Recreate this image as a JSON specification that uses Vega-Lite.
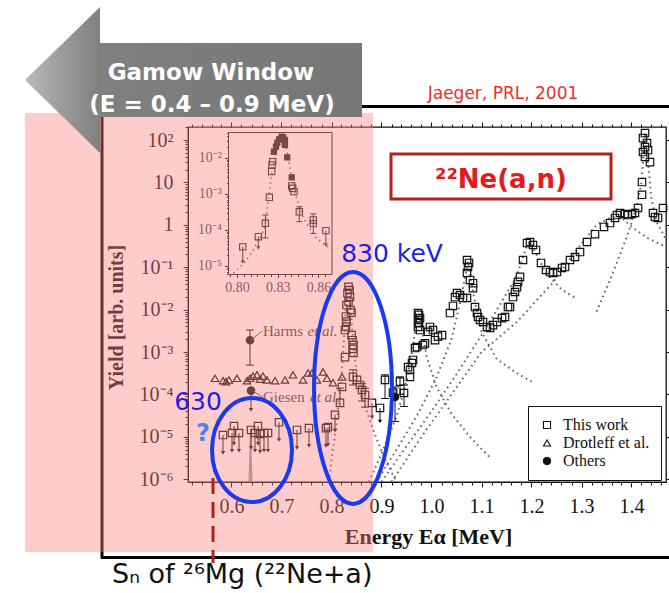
{
"$schema":"https://vega.github.io/schema/vega-lite/v6.json",
"width":478,"height":355,
"autosize":{"type":"none"},
"padding":{"left":188,"top":127,"right":3,"bottom":111},
"background":"white",
"config":{
 "view":{"stroke":"#111","strokeWidth":1.3},
 "axis":{"grid":false,"domainColor":"#111","tickColor":"#111","labelFont":"Liberation Serif","titleFont":"Liberation Serif","labelOverlap":false,"labelFlush":false}
},
"datasets":{
 "pts":[
  {"E":0.583,"Y":1.1e-5,"s":"This work"},{"E":0.601,"Y":1.23e-5,"s":"This work"},{"E":0.605,"Y":1.8e-5,"s":"This work"},{"E":0.615,"Y":1.23e-5,"s":"This work"},{"E":0.639,"Y":1.45e-5,"s":"This work"},{"E":0.647,"Y":1.23e-5,"s":"This work"},{"E":0.653,"Y":1.8e-5,"s":"This work"},{"E":0.657,"Y":1.17e-5,"s":"This work"},{"E":0.665,"Y":1.23e-5,"s":"This work"},{"E":0.673,"Y":1.23e-5,"s":"This work"},{"E":0.695,"Y":2.2e-5,"s":"This work"},{"E":0.731,"Y":1.45e-5,"s":"This work"},{"E":0.755,"Y":1.6e-5,"s":"This work"},{"E":0.789,"Y":1.6e-5,"s":"This work"},{"E":0.793,"Y":1.7e-5,"s":"This work"},{"E":0.807,"Y":3.3e-5,"s":"This work"},{"E":0.817,"Y":6.3e-5,"s":"This work"},{"E":0.821,"Y":1.5e-4,"s":"This work"},{"E":0.827,"Y":7.6e-4,"s":"This work"},{"E":0.843,"Y":2.6e-4,"s":"This work"},{"E":0.851,"Y":2.2e-4,"s":"This work"},{"E":0.857,"Y":1.67e-4,"s":"This work"},{"E":0.861,"Y":1.27e-4,"s":"This work"},{"E":0.867,"Y":9.7e-5,"s":"This work"},{"E":0.881,"Y":6.3e-5,"s":"This work"},{"E":0.897,"Y":4.8e-5,"s":"This work"},
  {"E":0.834,"Y":0.0345,"s":"This work"},{"E":0.836,"Y":0.029,"s":"This work"},{"E":0.832,"Y":0.0245,"s":"This work"},{"E":0.837,"Y":0.02,"s":"This work"},{"E":0.834,"Y":0.0155,"s":"This work"},{"E":0.83,"Y":0.0128,"s":"This work"},{"E":0.838,"Y":0.0098,"s":"This work"},{"E":0.84,"Y":0.0085,"s":"This work"},{"E":0.829,"Y":0.0069,"s":"This work"},{"E":0.83,"Y":0.0052,"s":"This work"},{"E":0.829,"Y":0.004,"s":"This work"},{"E":0.827,"Y":0.0033,"s":"This work"},{"E":0.84,"Y":0.0025,"s":"This work"},{"E":0.842,"Y":0.0019,"s":"This work"},{"E":0.844,"Y":0.00146,"s":"This work"},{"E":0.842,"Y":0.00118,"s":"This work"},{"E":0.844,"Y":0.00095,"s":"This work"},
  {"E":0.907,"Y":2.2e-4,"s":"This work"},{"E":0.937,"Y":2.0e-4,"s":"This work"},{"E":0.945,"Y":1.08e-4,"s":"This work"},{"E":0.923,"Y":1.1e-4,"s":"This work"},{"E":0.957,"Y":2.6e-4,"s":"This work"},{"E":0.953,"Y":4.4e-4,"s":"This work"},{"E":0.957,"Y":3.8e-4,"s":"This work"},{"E":0.961,"Y":5.5e-4,"s":"This work"},{"E":0.963,"Y":6.5e-4,"s":"This work"},{"E":0.967,"Y":0.00124,"s":"This work"},{"E":0.971,"Y":0.00131,"s":"This work"},{"E":0.983,"Y":0.00146,"s":"This work"},{"E":0.987,"Y":0.0016,"s":"This work"},
  {"E":0.973,"Y":0.0083,"s":"This work"},{"E":0.975,"Y":0.0075,"s":"This work"},{"E":0.977,"Y":0.0063,"s":"This work"},{"E":0.973,"Y":0.0057,"s":"This work"},{"E":0.975,"Y":0.0048,"s":"This work"},{"E":0.973,"Y":0.0039,"s":"This work"},{"E":0.977,"Y":0.0033,"s":"This work"},{"E":0.997,"Y":0.0039,"s":"This work"},{"E":0.993,"Y":0.003,"s":"This work"},{"E":1.003,"Y":0.0033,"s":"This work"},{"E":1.007,"Y":0.0019,"s":"This work"},{"E":1.013,"Y":0.0023,"s":"This work"},{"E":1.021,"Y":0.0025,"s":"This work"},
  {"E":1.037,"Y":0.0083,"s":"This work"},{"E":1.043,"Y":0.0122,"s":"This work"},{"E":1.047,"Y":0.0198,"s":"This work"},{"E":1.051,"Y":0.0246,"s":"This work"},{"E":1.057,"Y":0.0221,"s":"This work"},{"E":1.063,"Y":0.0188,"s":"This work"},{"E":1.071,"Y":0.0188,"s":"This work"},{"E":1.071,"Y":0.148,"s":"This work"},{"E":1.075,"Y":0.126,"s":"This work"},{"E":1.073,"Y":0.101,"s":"This work"},{"E":1.071,"Y":0.073,"s":"This work"},{"E":1.077,"Y":0.05,"s":"This work"},{"E":1.083,"Y":0.042,"s":"This work"},{"E":1.083,"Y":0.032,"s":"This work"},{"E":1.087,"Y":0.0115,"s":"This work"},{"E":1.091,"Y":0.0083,"s":"This work"},{"E":1.093,"Y":0.0067,"s":"This work"},{"E":1.097,"Y":0.0057,"s":"This work"},{"E":1.103,"Y":0.0051,"s":"This work"},{"E":1.111,"Y":0.0039,"s":"This work"},{"E":1.117,"Y":0.0037,"s":"This work"},{"E":1.123,"Y":0.0043,"s":"This work"},{"E":1.131,"Y":0.0051,"s":"This work"},{"E":1.141,"Y":0.0063,"s":"This work"},{"E":1.147,"Y":0.0067,"s":"This work"},{"E":1.153,"Y":0.0115,"s":"This work"},{"E":1.157,"Y":0.0115,"s":"This work"},{"E":1.163,"Y":0.0198,"s":"This work"},{"E":1.167,"Y":0.026,"s":"This work"},{"E":1.171,"Y":0.034,"s":"This work"},{"E":1.173,"Y":0.045,"s":"This work"},{"E":1.177,"Y":0.059,"s":"This work"},{"E":1.183,"Y":0.148,"s":"This work"},{"E":1.191,"Y":0.372,"s":"This work"},{"E":1.197,"Y":0.393,"s":"This work"},{"E":1.203,"Y":0.334,"s":"This work"},{"E":1.209,"Y":0.255,"s":"This work"},{"E":1.219,"Y":0.126,"s":"This work"},{"E":1.229,"Y":0.086,"s":"This work"},{"E":1.237,"Y":0.077,"s":"This work"},{"E":1.243,"Y":0.073,"s":"This work"},{"E":1.251,"Y":0.077,"s":"This work"},{"E":1.261,"Y":0.096,"s":"This work"},{"E":1.267,"Y":0.101,"s":"This work"},{"E":1.277,"Y":0.148,"s":"This work"},{"E":1.287,"Y":0.174,"s":"This work"},{"E":1.297,"Y":0.228,"s":"This work"},{"E":1.311,"Y":0.393,"s":"This work"},{"E":1.327,"Y":0.6,"s":"This work"},{"E":1.345,"Y":0.89,"s":"This work"},{"E":1.357,"Y":1.1,"s":"This work"},{"E":1.367,"Y":1.45,"s":"This work"},{"E":1.371,"Y":1.7,"s":"This work"},{"E":1.377,"Y":1.9,"s":"This work"},{"E":1.387,"Y":1.8,"s":"This work"},{"E":1.393,"Y":1.7,"s":"This work"},{"E":1.401,"Y":1.8,"s":"This work"},{"E":1.407,"Y":1.9,"s":"This work"},{"E":1.413,"Y":2.49,"s":"This work"},{"E":1.421,"Y":5.1,"s":"This work"},{"E":1.421,"Y":10.2,"s":"This work"},{"E":1.423,"Y":52,"s":"This work"},{"E":1.427,"Y":146,"s":"This work"},{"E":1.423,"Y":111,"s":"This work"},{"E":1.431,"Y":85,"s":"This work"},{"E":1.427,"Y":68,"s":"This work"},{"E":1.433,"Y":58,"s":"This work"},{"E":1.427,"Y":40,"s":"This work"},{"E":1.437,"Y":30,"s":"This work"},{"E":1.443,"Y":1.9,"s":"This work"},{"E":1.447,"Y":1.53,"s":"This work"},{"E":1.453,"Y":1.45,"s":"This work"},{"E":1.463,"Y":2.49,"s":"This work"},
  {"E":0.567,"Y":2.4e-4,"s":"Drotleff et al."},{"E":0.583,"Y":2.1e-4,"s":"Drotleff et al."},{"E":0.589,"Y":2.0e-4,"s":"Drotleff et al."},{"E":0.595,"Y":2.2e-4,"s":"Drotleff et al."},{"E":0.611,"Y":2.4e-4,"s":"Drotleff et al."},{"E":0.631,"Y":2.1e-4,"s":"Drotleff et al."},{"E":0.637,"Y":2.4e-4,"s":"Drotleff et al."},{"E":0.643,"Y":2.7e-4,"s":"Drotleff et al."},{"E":0.651,"Y":2.9e-4,"s":"Drotleff et al."},{"E":0.657,"Y":2.3e-4,"s":"Drotleff et al."},{"E":0.663,"Y":2.7e-4,"s":"Drotleff et al."},{"E":0.671,"Y":2.2e-4,"s":"Drotleff et al."},{"E":0.687,"Y":2.1e-4,"s":"Drotleff et al."},{"E":0.707,"Y":2.2e-4,"s":"Drotleff et al."},{"E":0.723,"Y":2.9e-4,"s":"Drotleff et al."},{"E":0.743,"Y":2.2e-4,"s":"Drotleff et al."},{"E":0.753,"Y":3.2e-4,"s":"Drotleff et al."},{"E":0.761,"Y":3.2e-4,"s":"Drotleff et al."},{"E":0.771,"Y":2.2e-4,"s":"Drotleff et al."},{"E":0.783,"Y":3.4e-4,"s":"Drotleff et al."},{"E":0.791,"Y":2.4e-4,"s":"Drotleff et al."},{"E":0.803,"Y":1.9e-4,"s":"Drotleff et al."},{"E":0.821,"Y":2.6e-4,"s":"Drotleff et al."},
  {"E":0.637,"Y":0.0019,"s":"Others"},{"E":0.639,"Y":1.23e-4,"s":"Others"},{"E":0.927,"Y":8.7e-5,"s":"Others"}
 ],
 "errs":[
  {"E":0.637,"lo":4.9e-4,"hi":0.0033},{"E":0.927,"lo":2.3e-5,"hi":1.5e-4},{"E":0.817,"lo":5.2e-5,"hi":1.4e-4},{"E":0.843,"lo":1.67e-4,"hi":3.8e-4},{"E":0.861,"lo":7e-5,"hi":1.8e-4},{"E":0.867,"lo":5e-5,"hi":1.4e-4},{"E":0.907,"lo":8e-5,"hi":2.9e-4},{"E":0.937,"lo":1.0e-4,"hi":2.6e-4},{"E":0.945,"lo":5.2e-5,"hi":1.67e-4}
 ],
 "lims":[
  {"E":0.583,"Y":1.1e-5,"lo":4.2e-6},{"E":0.601,"Y":1.23e-5,"lo":4.7e-6},{"E":0.605,"Y":1.8e-5,"lo":6.8e-6},{"E":0.615,"Y":1.23e-5,"lo":4.7e-6},{"E":0.639,"Y":1.45e-5,"lo":5.5e-6},{"E":0.647,"Y":1.23e-5,"lo":4.7e-6},{"E":0.653,"Y":1.8e-5,"lo":6.8e-6},{"E":0.657,"Y":1.17e-5,"lo":4.4e-6},{"E":0.665,"Y":1.23e-5,"lo":4.7e-6},{"E":0.673,"Y":1.23e-5,"lo":4.7e-6},{"E":0.695,"Y":2.2e-5,"lo":8.4e-6},{"E":0.731,"Y":1.45e-5,"lo":5.5e-6},{"E":0.755,"Y":1.6e-5,"lo":6.1e-6},{"E":0.789,"Y":1.6e-5,"lo":6.1e-6},{"E":0.793,"Y":1.7e-5,"lo":6.5e-6},{"E":0.807,"Y":3.3e-5,"lo":1.4e-5},{"E":0.881,"Y":6.3e-5,"lo":2.9e-5},{"E":0.897,"Y":4.8e-5,"lo":2.3e-5},{"E":0.639,"Y":1.23e-4,"lo":4.3e-5}
 ],
 "curves":[
  {"c":"C1","E":0.795,"Y":8.7e-7},{"c":"C1","E":0.8,"Y":3e-6},{"c":"C1","E":0.81,"Y":2e-5},{"c":"C1","E":0.82,"Y":2.5e-4},{"c":"C1","E":0.826,"Y":0.003},{"c":"C1","E":0.831,"Y":0.03},{"c":"C1","E":0.835,"Y":0.035},{"c":"C1","E":0.84,"Y":0.006},{"c":"C1","E":0.845,"Y":0.001},{"c":"C1","E":0.85,"Y":3.5e-4},{"c":"C1","E":0.86,"Y":1e-4},{"c":"C1","E":0.875,"Y":2.8e-5},{"c":"C1","E":0.89,"Y":9e-6},{"c":"C1","E":0.91,"Y":2.5e-6},{"c":"C1","E":0.93,"Y":8.7e-7},
  {"c":"C2","E":0.875,"Y":8.7e-7},{"c":"C2","E":0.9,"Y":4e-6},{"c":"C2","E":0.93,"Y":3e-5},{"c":"C2","E":0.95,"Y":2e-4},{"c":"C2","E":0.962,"Y":0.0012},{"c":"C2","E":0.97,"Y":0.005},{"c":"C2","E":0.975,"Y":0.008},{"c":"C2","E":0.98,"Y":0.004},{"c":"C2","E":0.99,"Y":8e-4},{"c":"C2","E":1.01,"Y":1.5e-4},{"c":"C2","E":1.04,"Y":3.5e-5},{"c":"C2","E":1.08,"Y":9e-6},{"c":"C2","E":1.12,"Y":3e-6},
  {"c":"C3","E":0.89,"Y":8.7e-7},{"c":"C3","E":0.93,"Y":5e-6},{"c":"C3","E":0.97,"Y":3e-5},{"c":"C3","E":1.01,"Y":2.5e-4},{"c":"C3","E":1.04,"Y":0.002},{"c":"C3","E":1.06,"Y":0.02},{"c":"C3","E":1.073,"Y":0.14},{"c":"C3","E":1.085,"Y":0.02},{"c":"C3","E":1.1,"Y":0.003},{"c":"C3","E":1.13,"Y":7e-4},{"c":"C3","E":1.165,"Y":3.5e-4},{"c":"C3","E":1.2,"Y":2e-4},
  {"c":"C4","E":0.9,"Y":8.7e-7},{"c":"C4","E":0.95,"Y":6e-6},{"c":"C4","E":1.0,"Y":4e-5},{"c":"C4","E":1.05,"Y":3e-4},{"c":"C4","E":1.1,"Y":0.0025},{"c":"C4","E":1.14,"Y":0.015},{"c":"C4","E":1.17,"Y":0.06},{"c":"C4","E":1.19,"Y":0.3},{"c":"C4","E":1.197,"Y":0.39},{"c":"C4","E":1.21,"Y":0.2},{"c":"C4","E":1.23,"Y":0.07},{"c":"C4","E":1.26,"Y":0.03},{"c":"C4","E":1.29,"Y":0.018},
  {"c":"C5","E":0.92,"Y":8.7e-7},{"c":"C5","E":0.98,"Y":1e-5},{"c":"C5","E":1.04,"Y":1e-4},{"c":"C5","E":1.1,"Y":0.001},{"c":"C5","E":1.17,"Y":0.005},{"c":"C5","E":1.24,"Y":0.04},{"c":"C5","E":1.29,"Y":0.25},{"c":"C5","E":1.33,"Y":1.0},{"c":"C5","E":1.36,"Y":1.5},{"c":"C5","E":1.38,"Y":1.5},{"c":"C5","E":1.4,"Y":0.9},{"c":"C5","E":1.43,"Y":0.5},{"c":"C5","E":1.469,"Y":0.3},
  {"c":"C6","E":1.33,"Y":0.009},{"c":"C6","E":1.36,"Y":0.06},{"c":"C6","E":1.39,"Y":0.5},{"c":"C6","E":1.41,"Y":2.5},{"c":"C6","E":1.42,"Y":10},{"c":"C6","E":1.427,"Y":140},{"c":"C6","E":1.433,"Y":30},{"c":"C6","E":1.44,"Y":4},{"c":"C6","E":1.45,"Y":1.2},{"c":"C6","E":1.469,"Y":0.45}
 ],
 "spike":[{"E":0.634,"Y":9e-7},{"E":0.637,"Y":1.6e-5},{"E":0.639,"Y":1.6e-5},{"E":0.642,"Y":9e-7}],
 "inframe":[{"x1":0.7937,"x2":0.87,"y1":5.8e-6,"y2":0.051}],
 "inopen":[{"E":0.8042,"Y":3.4e-5},{"E":0.8157,"Y":6.5e-5},{"E":0.8209,"Y":1.53e-4},{"E":0.8238,"Y":8.1e-4},{"E":0.8255,"Y":0.0042},{"E":0.8258,"Y":0.0064},{"E":0.8263,"Y":0.0079},{"E":0.8403,"Y":0.00167},{"E":0.841,"Y":0.00144},{"E":0.842,"Y":0.00116},{"E":0.8459,"Y":3.2e-4},{"E":0.8562,"Y":1.9e-4},{"E":0.8562,"Y":1.5e-4},{"E":0.8655,"Y":9.6e-5}],
 "infill":[{"E":0.8272,"Y":0.0149},{"E":0.8287,"Y":0.0206},{"E":0.8297,"Y":0.0266},{"E":0.8311,"Y":0.033},{"E":0.8329,"Y":0.039},{"E":0.8341,"Y":0.037},{"E":0.8353,"Y":0.0316},{"E":0.8353,"Y":0.023},{"E":0.837,"Y":0.0104},{"E":0.8403,"Y":0.0029}],
 "inerrs":[{"E":0.8209,"lo":6e-5,"hi":2.6e-4},{"E":0.8459,"lo":1.7e-4,"hi":4.4e-4},{"E":0.8562,"lo":8e-5,"hi":2.8e-4}],
 "inlims":[{"E":0.8042,"Y":3.4e-5,"lo":1.3e-5},{"E":0.8157,"Y":6.5e-5,"lo":3.2e-5},{"E":0.8655,"Y":9.6e-5,"lo":3.8e-5}],
 "incurve":[{"E":0.7973,"Y":6.3e-6},{"E":0.8059,"Y":1.29e-5},{"E":0.812,"Y":2.8e-5},{"E":0.8177,"Y":6.8e-5},{"E":0.8206,"Y":1.24e-4},{"E":0.823,"Y":6.8e-4},{"E":0.8256,"Y":0.0038},{"E":0.8287,"Y":0.0166},{"E":0.833,"Y":0.038},{"E":0.836,"Y":0.023},{"E":0.8376,"Y":0.01},{"E":0.8427,"Y":0.00107},{"E":0.8486,"Y":2.3e-4},{"E":0.8574,"Y":6.4e-5},{"E":0.867,"Y":3.4e-5},{"E":0.87,"Y":2.8e-5}],
 "frame":[{"E":0.341,"E2":0.341,"Y":600,"Y2":1.39e-8},{"E":0.337,"E2":1.475,"Y":617,"Y2":617},{"E":0.339,"E2":1.475,"Y":1.42e-8,"Y2":1.42e-8}],
 "leaders":[{"E":0.638,"E2":0.661,"Y":0.0019,"Y2":0.0031},{"E":0.642,"E2":0.662,"Y":1.23e-4,"Y2":8.7e-5}],
 "one":[{"E":1,"Y":1}],
 "inone":[{"E":0.83,"Y":0.001}]
},
"layer":[
 {"data":{"name":"one"},"mark":{"type":"point","opacity":0},
  "encoding":{
   "x":{"field":"E","type":"quantitative","scale":{"domain":[0.513,1.469],"nice":false,"zero":false},
    "axis":{"orient":"bottom","title":"Energy Eα [MeV]","titleFontSize":22,"titleFontWeight":"bold","titleColor":"#111","titleX":240,"titleY":61,"titleBaseline":"alphabetic","titleAlign":"center",
     "values":[0.6,0.7,0.8,0.9,1.0,1.1,1.2,1.3,1.4],"format":".1f","tickSize":5,"labelFontSize":20,"labelColor":"#111","labelPadding":9}},
   "y":{"field":"Y","type":"quantitative","scale":{"type":"log","domain":[8.6e-7,202.6],"nice":false},
    "axis":{"orient":"left","title":"Yield [arb. units]","titleFontSize":20,"titleFontWeight":"bold","titleColor":"#111","titleX":-66,"titleY":190,"titleBaseline":"alphabetic","titleAlign":"center","titleAngle":-90,
     "values":[1e-6,1e-5,1e-4,0.001,0.01,0.1,1,10,100],
     "labelExpr":"datum.value==100?'10²':datum.value==10?'10':datum.value==1?'1':datum.value==0.1?'10⁻¹':datum.value==0.01?'10⁻²':datum.value==0.001?'10⁻³':datum.value==0.0001?'10⁻⁴':datum.value==0.00001?'10⁻⁵':'10⁻⁶'",
     "tickSize":5,"labelFontSize":20,"labelColor":"#111","labelPadding":10}}}},
 {"data":{"name":"one"},"mark":{"type":"point","opacity":0},
  "encoding":{
   "x":{"field":"E","type":"quantitative","scale":{"domain":[0.513,1.469],"nice":false,"zero":false},
    "axis":{"orient":"bottom","title":null,"labels":false,"domain":false,"tickSize":3,
     "values":[0.52,0.54,0.56,0.58,0.62,0.64,0.66,0.68,0.72,0.74,0.76,0.78,0.82,0.84,0.86,0.88,0.92,0.94,0.96,0.98,1.02,1.04,1.06,1.08,1.12,1.14,1.16,1.18,1.22,1.24,1.26,1.28,1.32,1.34,1.36,1.38,1.42,1.44,1.46]}},
   "y":{"field":"Y","type":"quantitative","scale":{"type":"log","domain":[8.6e-7,202.6],"nice":false},
    "axis":{"orient":"left","title":null,"labels":false,"domain":false,"tickSize":3,
     "values":[2e-6,3e-6,4e-6,5e-6,6e-6,7e-6,8e-6,9e-6,2e-5,3e-5,4e-5,5e-5,6e-5,7e-5,8e-5,9e-5,2e-4,3e-4,4e-4,5e-4,6e-4,7e-4,8e-4,9e-4,0.002,0.003,0.004,0.005,0.006,0.007,0.008,0.009,0.02,0.03,0.04,0.05,0.06,0.07,0.08,0.09,0.2,0.3,0.4,0.5,0.6,0.7,0.8,0.9,2,3,4,5,6,7,8,9,20,30,40,50,60,70,80,90,200]}}}},
 {"data":{"name":"one"},"mark":{"type":"point","opacity":0},
  "encoding":{
   "x":{"field":"E","type":"quantitative","scale":{"domain":[0.513,1.469],"nice":false,"zero":false},
    "axis":{"orient":"top","title":null,"labels":false,"domain":false,"tickSize":5,"values":[0.6,0.7,0.8,0.9,1.0,1.1,1.2,1.3,1.4]}},
   "y":{"field":"Y","type":"quantitative","scale":{"type":"log","domain":[8.6e-7,202.6],"nice":false},
    "axis":{"orient":"right","title":null,"labels":false,"domain":false,"tickSize":5,"values":[1e-6,1e-5,1e-4,0.001,0.01,0.1,1,10,100]}}}},
 {"data":{"name":"one"},"mark":{"type":"point","opacity":0},
  "encoding":{
   "x":{"field":"E","type":"quantitative","scale":{"domain":[0.513,1.469],"nice":false,"zero":false},
    "axis":{"orient":"top","title":null,"labels":false,"domain":false,"tickSize":3,
     "values":[0.52,0.54,0.56,0.58,0.62,0.64,0.66,0.68,0.72,0.74,0.76,0.78,0.82,0.84,0.86,0.88,0.92,0.94,0.96,0.98,1.02,1.04,1.06,1.08,1.12,1.14,1.16,1.18,1.22,1.24,1.26,1.28,1.32,1.34,1.36,1.38,1.42,1.44,1.46]}},
   "y":{"field":"Y","type":"quantitative","scale":{"type":"log","domain":[8.6e-7,202.6],"nice":false},"axis":null}}},
 {"data":{"name":"inone"},"mark":{"type":"point","opacity":0},
  "encoding":{
   "x":{"field":"E","type":"quantitative","scale":{"domain":[0.7937,0.87],"range":[40.5,144],"nice":false,"zero":false},
    "axis":{"orient":"bottom","offset":-207.5,"domain":false,"title":null,"values":[0.8,0.83,0.86],"format":".2f","tickSize":3,"labelFontSize":14,"labelColor":"#444","labelPadding":3}},
   "y":{"field":"Y","type":"quantitative","scale":{"type":"log","domain":[5.8e-6,0.051],"range":[147.5,5.5],"nice":false},
    "axis":{"orient":"left","offset":-40.5,"domain":false,"title":null,"values":[1e-5,1e-4,0.001,0.01],
     "labelExpr":"datum.value==0.01?'10⁻²':datum.value==0.001?'10⁻³':datum.value==0.0001?'10⁻⁴':'10⁻⁵'","tickSize":4,"labelFontSize":14,"labelColor":"#444","labelPadding":3}}}},
 {"data":{"name":"inone"},"mark":{"type":"point","opacity":0},
  "encoding":{
   "x":{"field":"E","type":"quantitative","scale":{"domain":[0.7937,0.87],"range":[40.5,144],"nice":false,"zero":false},
    "axis":{"orient":"bottom","offset":-207.5,"domain":false,"title":null,"labels":false,"tickSize":2,"values":[0.795,0.805,0.81,0.815,0.82,0.825,0.835,0.84,0.845,0.85,0.855,0.865]}},
   "y":{"field":"Y","type":"quantitative","scale":{"type":"log","domain":[5.8e-6,0.051],"range":[147.5,5.5],"nice":false},
    "axis":{"orient":"left","offset":-40.5,"domain":false,"title":null,"labels":false,"tickSize":2,
     "values":[6e-6,7e-6,8e-6,9e-6,2e-5,3e-5,4e-5,5e-5,6e-5,7e-5,8e-5,9e-5,2e-4,3e-4,4e-4,5e-4,6e-4,7e-4,8e-4,9e-4,0.002,0.003,0.004,0.005,0.006,0.007,0.008,0.009,0.02,0.03,0.04,0.05]}}}},

 {"data":{"name":"inframe"},"mark":{"type":"rect","fill":"white","stroke":"#222","strokeWidth":1},
  "encoding":{
   "x":{"field":"x1","type":"quantitative","scale":{"domain":[0.7937,0.87],"range":[40.5,144],"nice":false,"zero":false},"axis":null},
   "x2":{"field":"x2"},
   "y":{"field":"y1","type":"quantitative","scale":{"type":"log","domain":[5.8e-6,0.051],"range":[147.5,5.5],"nice":false},"axis":null},
   "y2":{"field":"y2"}}},
 {"data":{"name":"incurve"},"mark":{"type":"line","stroke":"#666","strokeWidth":1.6,"strokeDash":[1.5,3.5]},
  "encoding":{"x":{"field":"E","type":"quantitative","scale":{"domain":[0.7937,0.87],"range":[40.5,144],"nice":false,"zero":false},"axis":null},
   "y":{"field":"Y","type":"quantitative","scale":{"type":"log","domain":[5.8e-6,0.051],"range":[147.5,5.5],"nice":false},"axis":null}}},
 {"data":{"name":"inerrs"},"mark":{"type":"rule","stroke":"#222","strokeWidth":1},
  "encoding":{"x":{"field":"E","type":"quantitative","scale":{"domain":[0.7937,0.87],"range":[40.5,144],"nice":false,"zero":false},"axis":null},
   "y":{"field":"lo","type":"quantitative","scale":{"type":"log","domain":[5.8e-6,0.051],"range":[147.5,5.5],"nice":false},"axis":null},"y2":{"field":"hi"}}},
 {"data":{"name":"inerrs"},"mark":{"type":"tick","orient":"horizontal","size":6,"thickness":1,"color":"#222","opacity":1},
  "encoding":{"x":{"field":"E","type":"quantitative","scale":{"domain":[0.7937,0.87],"range":[40.5,144],"nice":false,"zero":false},"axis":null},
   "y":{"field":"lo","type":"quantitative","scale":{"type":"log","domain":[5.8e-6,0.051],"range":[147.5,5.5],"nice":false},"axis":null}}},
 {"data":{"name":"inerrs"},"mark":{"type":"tick","orient":"horizontal","size":6,"thickness":1,"color":"#222","opacity":1},
  "encoding":{"x":{"field":"E","type":"quantitative","scale":{"domain":[0.7937,0.87],"range":[40.5,144],"nice":false,"zero":false},"axis":null},
   "y":{"field":"hi","type":"quantitative","scale":{"type":"log","domain":[5.8e-6,0.051],"range":[147.5,5.5],"nice":false},"axis":null}}},
 {"data":{"name":"inlims"},"mark":{"type":"rule","stroke":"#222","strokeWidth":1},
  "encoding":{"x":{"field":"E","type":"quantitative","scale":{"domain":[0.7937,0.87],"range":[40.5,144],"nice":false,"zero":false},"axis":null},
   "y":{"field":"Y","type":"quantitative","scale":{"type":"log","domain":[5.8e-6,0.051],"range":[147.5,5.5],"nice":false},"axis":null},"y2":{"field":"lo"}}},
 {"data":{"name":"inlims"},"mark":{"type":"point","shape":"triangle-down","size":14,"filled":true,"color":"#222","opacity":1},
  "encoding":{"x":{"field":"E","type":"quantitative","scale":{"domain":[0.7937,0.87],"range":[40.5,144],"nice":false,"zero":false},"axis":null},
   "y":{"field":"lo","type":"quantitative","scale":{"type":"log","domain":[5.8e-6,0.051],"range":[147.5,5.5],"nice":false},"axis":null}}},
 {"data":{"name":"inopen"},"mark":{"type":"point","shape":"square","size":40,"filled":false,"stroke":"#222","strokeWidth":1.1,"opacity":1},
  "encoding":{"x":{"field":"E","type":"quantitative","scale":{"domain":[0.7937,0.87],"range":[40.5,144],"nice":false,"zero":false},"axis":null},
   "y":{"field":"Y","type":"quantitative","scale":{"type":"log","domain":[5.8e-6,0.051],"range":[147.5,5.5],"nice":false},"axis":null}}},
 {"data":{"name":"infill"},"mark":{"type":"point","shape":"square","size":40,"filled":true,"color":"#222","opacity":1},
  "encoding":{"x":{"field":"E","type":"quantitative","scale":{"domain":[0.7937,0.87],"range":[40.5,144],"nice":false,"zero":false},"axis":null},
   "y":{"field":"Y","type":"quantitative","scale":{"type":"log","domain":[5.8e-6,0.051],"range":[147.5,5.5],"nice":false},"axis":null}}},

 {"data":{"name":"curves"},"mark":{"type":"line","stroke":"#666","strokeWidth":2,"strokeDash":[1.6,3.6]},
  "encoding":{"x":{"field":"E","type":"quantitative","scale":{"domain":[0.513,1.469],"nice":false,"zero":false},"axis":null},
   "y":{"field":"Y","type":"quantitative","scale":{"type":"log","domain":[8.6e-7,202.6],"nice":false},"axis":null},"detail":{"field":"c"}}},
 {"data":{"name":"spike"},"mark":{"type":"area","color":"#8a8a8a","opacity":0.85},
  "encoding":{"x":{"field":"E","type":"quantitative","scale":{"domain":[0.513,1.469],"nice":false,"zero":false},"axis":null},
   "y":{"field":"Y","type":"quantitative","scale":{"type":"log","domain":[8.6e-7,202.6],"nice":false},"axis":null},"y2":{"datum":9e-7}}},
 {"data":{"name":"errs"},"mark":{"type":"rule","stroke":"#111","strokeWidth":1},
  "encoding":{"x":{"field":"E","type":"quantitative","scale":{"domain":[0.513,1.469],"nice":false,"zero":false},"axis":null},
   "y":{"field":"lo","type":"quantitative","scale":{"type":"log","domain":[8.6e-7,202.6],"nice":false},"axis":null},"y2":{"field":"hi"}}},
 {"data":{"name":"errs"},"mark":{"type":"tick","orient":"horizontal","size":8,"thickness":1,"color":"#111","opacity":1},
  "encoding":{"x":{"field":"E","type":"quantitative","scale":{"domain":[0.513,1.469],"nice":false,"zero":false},"axis":null},
   "y":{"field":"lo","type":"quantitative","scale":{"type":"log","domain":[8.6e-7,202.6],"nice":false},"axis":null}}},
 {"data":{"name":"errs"},"mark":{"type":"tick","orient":"horizontal","size":8,"thickness":1,"color":"#111","opacity":1},
  "encoding":{"x":{"field":"E","type":"quantitative","scale":{"domain":[0.513,1.469],"nice":false,"zero":false},"axis":null},
   "y":{"field":"hi","type":"quantitative","scale":{"type":"log","domain":[8.6e-7,202.6],"nice":false},"axis":null}}},
 {"data":{"name":"lims"},"mark":{"type":"rule","stroke":"#111","strokeWidth":1},
  "encoding":{"x":{"field":"E","type":"quantitative","scale":{"domain":[0.513,1.469],"nice":false,"zero":false},"axis":null},
   "y":{"field":"Y","type":"quantitative","scale":{"type":"log","domain":[8.6e-7,202.6],"nice":false},"axis":null},"y2":{"field":"lo"}}},
 {"data":{"name":"lims"},"mark":{"type":"point","shape":"triangle-down","size":18,"filled":true,"color":"#111","opacity":1},
  "encoding":{"x":{"field":"E","type":"quantitative","scale":{"domain":[0.513,1.469],"nice":false,"zero":false},"axis":null},
   "y":{"field":"lo","type":"quantitative","scale":{"type":"log","domain":[8.6e-7,202.6],"nice":false},"axis":null}}},
 {"data":{"name":"pts"},"mark":{"type":"point","strokeWidth":1.2,"size":55,"opacity":1},
  "encoding":{"x":{"field":"E","type":"quantitative","scale":{"domain":[0.513,1.469],"nice":false,"zero":false},"axis":null},
   "y":{"field":"Y","type":"quantitative","scale":{"type":"log","domain":[8.6e-7,202.6],"nice":false},"axis":null},
   "shape":{"field":"s","type":"nominal","scale":{"domain":["This work","Drotleff et al.","Others"],"range":["square","triangle-up","circle"]},
    "legend":{"orient":"none","legendX":340,"legendY":279,"title":null,"strokeColor":"#111","fillColor":"white","padding":11,"labelFont":"Liberation Serif","labelFontSize":16,"labelColor":"#111","symbolSize":50,"symbolStrokeWidth":1.1,"rowPadding":2,"labelOffset":8}},
   "fill":{"field":"s","type":"nominal","scale":{"domain":["This work","Drotleff et al.","Others"],"range":["transparent","transparent","#111"]},
    "legend":{"orient":"none","legendX":340,"legendY":279,"title":null,"strokeColor":"#111","fillColor":"white","padding":11,"labelFont":"Liberation Serif","labelFontSize":16,"labelColor":"#111","symbolSize":50,"symbolStrokeWidth":1.1,"rowPadding":2,"labelOffset":8}},
   "stroke":{"field":"s","type":"nominal","scale":{"domain":["This work","Drotleff et al.","Others"],"range":["#111","#111","#111"]},
    "legend":{"orient":"none","legendX":340,"legendY":279,"title":null,"strokeColor":"#111","fillColor":"white","padding":11,"labelFont":"Liberation Serif","labelFontSize":16,"labelColor":"#111","symbolSize":50,"symbolStrokeWidth":1.1,"rowPadding":2,"labelOffset":8}}}},
 {"data":{"name":"leaders"},"mark":{"type":"rule","stroke":"#555","strokeWidth":1},
  "encoding":{"x":{"field":"E","type":"quantitative","scale":{"domain":[0.513,1.469],"nice":false,"zero":false},"axis":null},"x2":{"field":"E2"},
   "y":{"field":"Y","type":"quantitative","scale":{"type":"log","domain":[8.6e-7,202.6],"nice":false},"axis":null},"y2":{"field":"Y2"}}},
 {"data":{"values":[{"E":0.663,"Y":0.0032,"t":"Harms"},{"E":0.663,"Y":8.7e-5,"t":"Giesen"}]},"mark":{"type":"text","font":"Liberation Serif","fontSize":15,"color":"#444","align":"left","baseline":"middle"},
  "encoding":{"x":{"field":"E","type":"quantitative","scale":{"domain":[0.513,1.469],"nice":false,"zero":false},"axis":null},
   "y":{"field":"Y","type":"quantitative","scale":{"type":"log","domain":[8.6e-7,202.6],"nice":false},"axis":null},"text":{"field":"t"}}},
 {"data":{"values":[{"E":0.752,"Y":0.0032,"t":"et al."},{"E":0.757,"Y":8.7e-5,"t":"et al."}]},"mark":{"type":"text","font":"Liberation Serif","fontSize":15,"fontStyle":"italic","color":"#444","align":"left","baseline":"middle"},
  "encoding":{"x":{"field":"E","type":"quantitative","scale":{"domain":[0.513,1.469],"nice":false,"zero":false},"axis":null},
   "y":{"field":"Y","type":"quantitative","scale":{"type":"log","domain":[8.6e-7,202.6],"nice":false},"axis":null},"text":{"field":"t"}}},
 {"data":{"name":"frame"},"mark":{"type":"rule","stroke":"#000","strokeWidth":3},
  "encoding":{"x":{"field":"E","type":"quantitative","scale":{"domain":[0.513,1.469],"nice":false,"zero":false},"axis":null},"x2":{"field":"E2"},
   "y":{"field":"Y","type":"quantitative","scale":{"type":"log","domain":[8.6e-7,202.6],"nice":false},"axis":null},"y2":{"field":"Y2"}}},
 {"data":{"values":[{"E":0.187,"E2":0.883,"Y":433.6,"Y2":1.92e-8}]},"mark":{"type":"rect","fill":"#ff8080","opacity":0.4},
  "encoding":{"x":{"field":"E","type":"quantitative","scale":{"domain":[0.513,1.469],"nice":false,"zero":false},"axis":null},"x2":{"field":"E2"},
   "y":{"field":"Y","type":"quantitative","scale":{"type":"log","domain":[8.6e-7,202.6],"nice":false},"axis":null},"y2":{"field":"Y2"}}},
 {"data":{"values":[{"E":0.919,"E2":1.359,"Y":46.8,"Y2":4.06}]},"mark":{"type":"rect","fill":"white","fillOpacity":0,"stroke":"#b3211c","strokeWidth":3},
  "encoding":{"x":{"field":"E","type":"quantitative","scale":{"domain":[0.513,1.469],"nice":false,"zero":false},"axis":null},"x2":{"field":"E2"},
   "y":{"field":"Y","type":"quantitative","scale":{"type":"log","domain":[8.6e-7,202.6],"nice":false},"axis":null},"y2":{"field":"Y2"}}},
 {"data":{"values":[{"E":1.139,"Y":7.38,"t":"²²Ne(a,n)"}]},"mark":{"type":"text","font":"DejaVu Sans","fontSize":26,"fontWeight":"bold","color":"#e41a1c","align":"center","baseline":"alphabetic"},
  "encoding":{"x":{"field":"E","type":"quantitative","scale":{"domain":[0.513,1.469],"nice":false,"zero":false},"axis":null},
   "y":{"field":"Y","type":"quantitative","scale":{"type":"log","domain":[8.6e-7,202.6],"nice":false},"axis":null},"text":{"field":"t"}}},
 {"data":{"values":[{"E":1.143,"Y":927,"t":"Jaeger, PRL, 2001"}]},"mark":{"type":"text","font":"DejaVu Sans","fontSize":17,"color":"#e8302e","align":"center","baseline":"alphabetic"},
  "encoding":{"x":{"field":"E","type":"quantitative","scale":{"domain":[0.513,1.469],"nice":false,"zero":false},"axis":null},
   "y":{"field":"Y","type":"quantitative","scale":{"type":"log","domain":[8.6e-7,202.6],"nice":false},"axis":null},"text":{"field":"t"}}},
 {"data":{"values":[{"E":0.563,"Y":1.07e-6,"Y2":1.06e-8}]},"mark":{"type":"rule","stroke":"#b22016","strokeWidth":3,"strokeDash":[16,8]},
  "encoding":{"x":{"field":"E","type":"quantitative","scale":{"domain":[0.513,1.469],"nice":false,"zero":false},"axis":null},
   "y":{"field":"Y","type":"quantitative","scale":{"type":"log","domain":[8.6e-7,202.6],"nice":false},"axis":null},"y2":{"field":"Y2"}}},
 {"data":{"values":[{"E":0.843,"Y":1.42e-4}]},"mark":{"type":"point","shape":"M-0.336,0A0.336,1,0,1,0,0.336,0A0.336,1,0,1,0,-0.336,0Z","size":53824,"filled":false,"stroke":"#1a3af0","strokeWidth":4,"opacity":1},
  "encoding":{"x":{"field":"E","type":"quantitative","scale":{"domain":[0.513,1.469],"nice":false,"zero":false},"axis":null},
   "y":{"field":"Y","type":"quantitative","scale":{"type":"log","domain":[8.6e-7,202.6],"nice":false},"axis":null}}},
 {"data":{"values":[{"E":0.641,"Y":4.89e-6}]},"mark":{"type":"point","shape":"M-0.769,0A0.769,1,0,1,0,0.769,0A0.769,1,0,1,0,-0.769,0Z","size":10816,"filled":false,"stroke":"#1a3af0","strokeWidth":4,"opacity":1},
  "encoding":{"x":{"field":"E","type":"quantitative","scale":{"domain":[0.513,1.469],"nice":false,"zero":false},"axis":null},
   "y":{"field":"Y","type":"quantitative","scale":{"type":"log","domain":[8.6e-7,202.6],"nice":false},"axis":null}}},
 {"data":{"values":[{"E":0.921,"Y":0.133,"t":"830 keV"},{"E":0.533,"Y":4.29e-5,"t":"630"}]},"mark":{"type":"text","font":"DejaVu Sans","fontSize":25,"color":"#1f1fe6","align":"center","baseline":"alphabetic"},
  "encoding":{"x":{"field":"E","type":"quantitative","scale":{"domain":[0.513,1.469],"nice":false,"zero":false},"axis":null},
   "y":{"field":"Y","type":"quantitative","scale":{"type":"log","domain":[8.6e-7,202.6],"nice":false},"axis":null},"text":{"field":"t"}}},
 {"data":{"values":[{"E":0.543,"Y":7.96e-6,"t":"?"}]},"mark":{"type":"text","font":"DejaVu Sans","fontSize":24,"fontWeight":"bold","color":"#4a86e8","align":"center","baseline":"alphabetic"},
  "encoding":{"x":{"field":"E","type":"quantitative","scale":{"domain":[0.513,1.469],"nice":false,"zero":false},"axis":null},
   "y":{"field":"Y","type":"quantitative","scale":{"type":"log","domain":[8.6e-7,202.6],"nice":false},"axis":null},"text":{"field":"t"}}},
 {"data":{"values":[{"E":0.524,"Y":2600}]},"mark":{"type":"point","shape":"M-0.991,0L-0.55,-0.429L-0.55,-0.218L0.991,-0.218L0.991,0.218L-0.55,0.218L-0.55,0.429Z","size":115600,"filled":true,"opacity":1,"strokeWidth":0,
   "fill":{"gradient":"linear","x1":0,"y1":0,"x2":1,"y2":0,"stops":[{"offset":0,"color":"#b8b8b8"},{"offset":0.22,"color":"#808080"},{"offset":1,"color":"#767676"}]}},
  "encoding":{"x":{"field":"E","type":"quantitative","scale":{"domain":[0.513,1.469],"nice":false,"zero":false},"axis":null},
   "y":{"field":"Y","type":"quantitative","scale":{"type":"log","domain":[8.6e-7,202.6],"nice":false},"axis":null}}},
 {"data":{"values":[{"E":0.559,"Y":2600,"t":"Gamow Window"},{"E":0.561,"Y":457,"t":"(E = 0.4 – 0.9 MeV)"}]},"mark":{"type":"text","font":"DejaVu Sans","fontSize":23,"fontWeight":"bold","color":"white","align":"center","baseline":"alphabetic"},
  "encoding":{"x":{"field":"E","type":"quantitative","scale":{"domain":[0.513,1.469],"nice":false,"zero":false},"axis":null},
   "y":{"field":"Y","type":"quantitative","scale":{"type":"log","domain":[8.6e-7,202.6],"nice":false},"axis":null},"text":{"field":"t"}}},
 {"data":{"values":[{"E":0.361,"Y":3.56e-9,"t":"Sₙ of ²⁶Mg (²²Ne+a)"}]},"mark":{"type":"text","font":"DejaVu Sans","fontSize":27,"color":"#111","align":"left","baseline":"alphabetic"},
  "encoding":{"x":{"field":"E","type":"quantitative","scale":{"domain":[0.513,1.469],"nice":false,"zero":false},"axis":null},
   "y":{"field":"Y","type":"quantitative","scale":{"type":"log","domain":[8.6e-7,202.6],"nice":false},"axis":null},"text":{"field":"t"}}}
],
"resolve":{"scale":{"x":"independent","y":"independent","shape":"shared","fill":"shared","stroke":"shared"}}
}
